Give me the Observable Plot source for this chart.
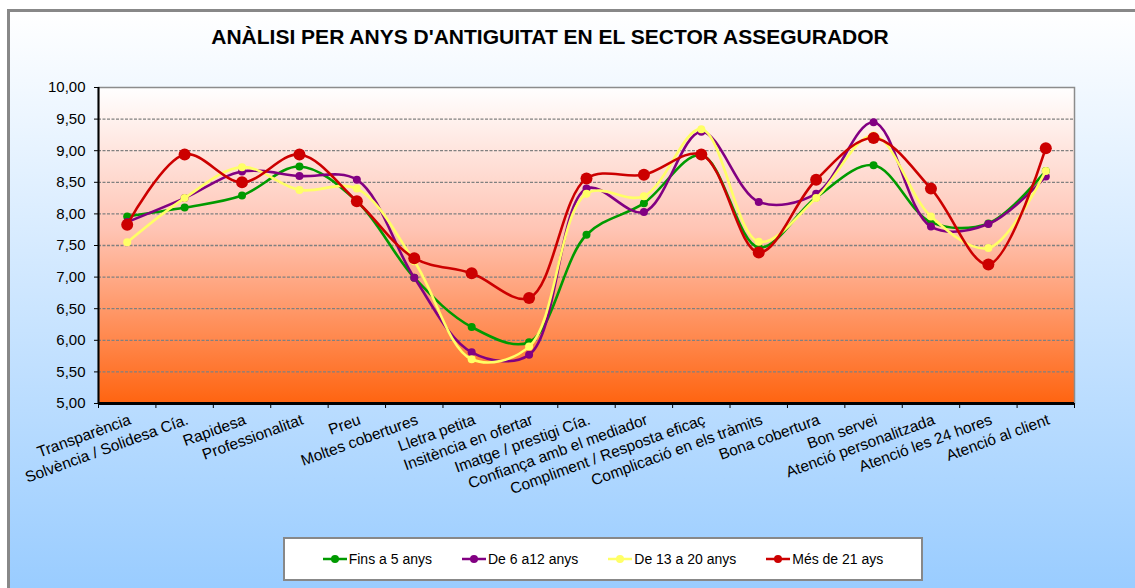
<!DOCTYPE html>
<html><head><meta charset="utf-8">
<script src="https://cdn.jsdelivr.net/npm/d3@7"></script>
<script src="https://cdn.jsdelivr.net/npm/@observablehq/plot@0.6"></script>
<style>
html,body{margin:0;padding:0;background:#fff;}
#wrap{position:relative;width:1135px;height:588px;overflow:hidden;font-family:Arial,"Liberation Sans",sans-serif;color:#000;}
#frame{position:absolute;left:7px;top:9px;width:1200px;height:700px;border:3px solid #888;background:linear-gradient(to bottom,#ffffff 0px,#99ccff 580px);}
#title{position:absolute;left:0;width:1100px;top:25px;line-height:24px;text-align:center;font-weight:bold;font-size:21px;}
#chart{position:absolute;left:0;top:60px;}
#legend{position:absolute;left:283px;top:537px;width:636px;height:40px;background:#fff;border:2px solid #888;display:flex;align-items:center;justify-content:center;gap:30px;font-size:14px;}
.item{display:flex;align-items:center;gap:2px;}
</style></head>
<body>
<div id="wrap">
  <div id="frame"></div>
  <div id="title">ANÀLISI PER ANYS D'ANTIGUITAT EN EL SECTOR ASSEGURADOR</div>
  <div id="chart"></div>
  <div id="legend"></div>
</div>
<script>
const categories = ["Transparència","Solvència / Solidesa Cía.","Rapidesa","Professionalitat","Preu","Moltes cobertures","Lletra petita","Insitència en ofertar","Imatge / prestigi Cía.","Confiança amb el mediador","Compliment / Resposta eficaç","Complicació en els tràmits","Bona cobertura","Bon servei","Atenció personalitzada","Atenció les 24 hores","Atenció al client"];
const seriesNames = ["Fins a 5 anys","De 6 a12 anys","De 13 a 20 anys","Més de 21 ays"];
const fins5   = [7.96, 8.10, 8.29, 8.75, 8.20, 6.99, 6.21, 5.97, 7.67, 8.17, 8.93, 7.47, 8.26, 8.77, 7.87, 7.85, 8.68];
const de6a12  = [7.87, 8.25, 8.67, 8.60, 8.54, 6.99, 5.81, 5.77, 8.40, 8.03, 9.30, 8.19, 8.32, 9.45, 7.80, 7.84, 8.59];
const de13a20 = [7.55, 8.25, 8.74, 8.38, 8.40, 7.25, 5.70, 5.90, 8.32, 8.28, 9.34, 7.56, 8.25, 9.24, 7.96, 7.46, 8.68];
const mes21   = [7.83, 8.94, 8.50, 8.94, 8.20, 7.30, 7.06, 6.67, 8.56, 8.62, 8.94, 7.39, 8.54, 9.20, 8.40, 7.20, 9.04];
const yTicks = [5, 5.5, 6, 6.5, 7, 7.5, 8, 8.5, 9, 9.5, 10];

const colors = ["#009a00", "#820082", "#ffff66", "#cc0000"];
const dotR = [4, 4, 4, 6];
const allValues = [fins5, de6a12, de13a20, mes21];

const catRows = categories.map((c, i) => ({cat: c, i: i + 1}));
const bounds = d3.range(0, categories.length + 1).map(k => k + 0.5);
const seriesRows = allValues.map((vals, s) => vals.map((v, i) => ({serie: seriesNames[s], cat: categories[i], i: i + 1, v})));

const fmt = d => d.toFixed(2).replace(".", ",");

const marks = [
  Plot.frame({fill: "url(#plotbg)", stroke: "#8c8c8c", strokeWidth: 1.5}),
  Plot.ruleY(yTicks.filter(t => t > 5 && t < 10), {stroke: "#808080", strokeDasharray: "3,1.5", strokeWidth: 1.3}),
  Plot.axisY({ticks: yTicks, tickFormat: fmt, tickSize: 4, tickPadding: 9, fontSize: 15, stroke: "#000", label: null}),
  Plot.axisX({ticks: bounds, tickFormat: () => "", tickSize: 5, tickPadding: 0, stroke: "#000", label: null}),
  Plot.text(catRows, {x: "i", text: "cat", frameAnchor: "bottom", rotate: -20, textAnchor: "end", lineAnchor: "top", dx: 1, dy: 10, fontSize: 15.5, fill: "#000"})
];
seriesRows.forEach((rows, s) => {
  marks.push(Plot.line(rows, {x: "i", y: "v", stroke: colors[s], strokeWidth: 2.6, curve: "catmull-rom"}));
  marks.push(Plot.dot(rows, {x: "i", y: "v", r: dotR[s], fill: colors[s], stroke: "none"}));
});
marks.push(Plot.ruleX([0.5], {stroke: "#000", strokeWidth: 2}));
marks.push(Plot.ruleY([5], {stroke: "#000", strokeWidth: 3}));

const chart = Plot.plot({
  width: 1135, height: 470,
  marginLeft: 98, marginRight: 61, marginTop: 27, marginBottom: 127,
  style: {background: "transparent", overflow: "visible", fontFamily: "Arial, 'Liberation Sans', sans-serif", fontSize: "15px", color: "#000"},
  x: {type: "linear", domain: [0.5, categories.length + 0.5], label: null},
  y: {domain: [5, 10], label: null},
  marks
});
const defs = d3.select(chart).insert("defs", ":first-child");
const lg = defs.append("linearGradient").attr("id", "plotbg").attr("x1", 0).attr("y1", 0).attr("x2", 0).attr("y2", 1);
[[0, "#ffffff"], [0.45, "#ffc4b4"], [1, "#ff6410"]].forEach(([o, c]) => lg.append("stop").attr("offset", o).attr("stop-color", c));
document.getElementById("chart").appendChild(chart);

const legend = document.getElementById("legend");
seriesNames.forEach((n, s) => {
  const it = document.createElement("div");
  it.className = "item";
  it.innerHTML = `<svg width="24" height="10"><line x1="0" y1="5" x2="24" y2="5" stroke="${colors[s]}" stroke-width="2.5"/><circle cx="12" cy="5" r="4" fill="${colors[s]}"/></svg><span>${n}</span>`;
  legend.appendChild(it);
});
</script>
</body></html>
